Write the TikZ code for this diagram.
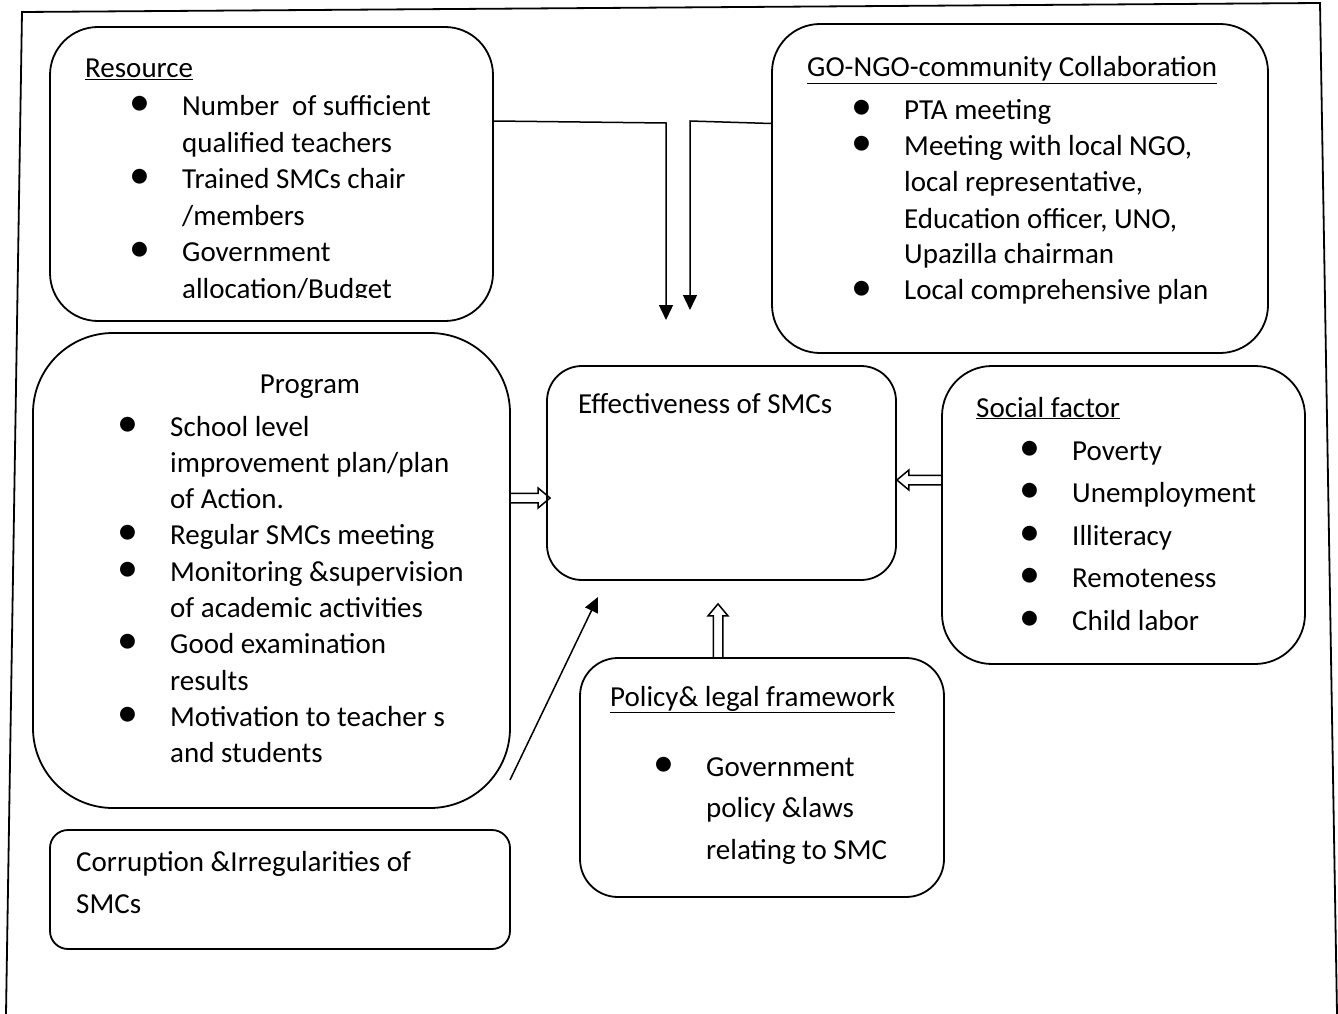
\documentclass[tikz,border=0pt]{standalone}
\usepackage{fontspec}
\setmainfont{Carlito}
\usetikzlibrary{arrows.meta,calc}

\tikzset{
  box/.style={draw, line width=1.8pt, inner sep=0pt},
  txt/.style={anchor=base west, inner sep=0pt, font=\fontsize{29}{36}\selectfont},
  link/.style={line width=1.5pt, -{Triangle[length=15pt,width=14pt]}},
  hollow/.style={line width=1.5pt, line join=miter, to path={
    let \p1=(\tikztostart), \p2=(\tikztotarget), \n1={atan2(\y2-\y1,\x2-\x1)} in
    ($(\p1)+(\n1+90:4.75pt)$) -- ($(\p2)+(\n1+180:12pt)+(\n1+90:4.75pt)$)
    -- ($(\p2)+(\n1+180:12pt)+(\n1+90:10pt)$) -- (\p2)
    -- ($(\p2)+(\n1+180:12pt)+(\n1-90:10pt)$) -- ($(\p2)+(\n1+180:12pt)+(\n1-90:4.75pt)$)
    -- ($(\p1)+(\n1-90:4.75pt)$)}}
}
\newcommand{\bul}{\llap{\makebox[0pt]{\fontsize{42}{36}\selectfont\textbullet}\hspace{42pt}}}

\begin{document}
\begin{tikzpicture}[x=1pt,y=-1pt]
  \useasboundingbox (0,0) rectangle (1338,1014);

  % outer frame
  \draw[line width=1.8pt] (6,1014) -- (22,12) -- (1320,3) -- (1337,1014);

  % boxes
  \node[box, rounded corners=48pt, minimum width=443pt, minimum height=294pt] (res) at (271.5,174) {};
  \node[box, rounded corners=48pt, minimum width=496pt, minimum height=329pt] (gon) at (1020,188.5) {};
  \node[box, rounded corners=80pt, minimum width=477pt, minimum height=475pt] (prog) at (271.5,570.5) {};
  \node[box, rounded corners=35pt, minimum width=349pt, minimum height=214pt] (eff) at (721.5,473) {};
  \node[box, rounded corners=50pt, minimum width=363pt, minimum height=298pt] (soc) at (1123.5,515) {};
  \node[box, rounded corners=38pt, minimum width=364pt, minimum height=239pt] (pol) at (762,777.5) {};
  \node[box, rounded corners=18pt, minimum width=460pt, minimum height=119pt] (cor) at (280,889.5) {};

  % Resource
  \node[txt] (res-h) at (85,78) {\underline{Resource}};
  \begin{scope}
    \clip (0,0) rectangle (1338,297);
    \node[txt, font=\fontsize{29}{36.5}\selectfont] (res-l) at (182,116) {\begin{tabular}[t]{@{}l@{}}
      \bul Number\ \ of sufficient\\ qualified teachers\\
      \bul Trained SMCs chair\\ /members\\
      \bul Government\\ allocation/Budget
    \end{tabular}};
  \end{scope}

  % GO-NGO
  \node[txt] (gon-h) at (807,77) {\underline{GO-NGO-community Collaboration}};
  \node[txt] (gon-l) at (904,120) {\begin{tabular}[t]{@{}l@{}}
      \bul PTA meeting\\
      \bul Meeting with local NGO,\\ local representative,\\ Education officer, UNO,\\ Upazilla chairman\\
      \bul Local comprehensive plan
    \end{tabular}};

  % Program
  \node[txt, anchor=base] (prog-h) at (310,393) {Program};
  \node[txt, font=\fontsize{29}{36.3}\selectfont] (prog-l) at (170,436) {\begin{tabular}[t]{@{}l@{}}
      \bul School level\\ improvement plan/plan\\ of Action.\\
      \bul Regular SMCs meeting\\
      \bul Monitoring \&supervision\\ of academic activities\\
      \bul Good examination\\ results\\
      \bul Motivation to teacher s\\ and students
    \end{tabular}};

  \node[txt] (eff-t) at (578,413) {Effectiveness of SMCs};

  % Social factor
  \node[txt] (soc-h) at (976,417) {\underline{Social factor}};
  \node[txt, font=\fontsize{29}{42.5}\selectfont] (soc-l) at (1072,460) {\begin{tabular}[t]{@{}l@{}}
      \bul Poverty\\ \bul Unemployment\\ \bul Illiteracy\\ \bul Remoteness\\ \bul Child labor
    \end{tabular}};

  % Policy
  \node[txt] (pol-h) at (610,706) {\underline{Policy\& legal framework}};
  \node[txt, font=\fontsize{29}{41.5}\selectfont] (pol-l) at (706,776) {\begin{tabular}[t]{@{}l@{}}
      \bul Government\\ policy \&laws\\ relating to SMC
    \end{tabular}};

  \node[txt, font=\fontsize{29}{42}\selectfont] (cor-t) at (76,871) {\begin{tabular}[t]{@{}l@{}}
      Corruption \&Irregularities of\\ SMCs
    \end{tabular}};

  % arrows
  \coordinate (r1) at (666,123);
  \coordinate (r2) at (666,320);
  \coordinate (g1) at (690,121);
  \coordinate (g2) at (690,310);
  \coordinate (d0) at (510,780);
  \coordinate (d1) at (598,597);
  \draw[link] ([yshift=53pt]res.east) -- (r1) -- (r2);
  \draw[link] ([yshift=65pt]gon.west) -- (g1) -- (g2);
  \draw[link] (d0) -- (d1);
  \draw[hollow] ([yshift=72.5pt]prog.east) to ([xshift=4pt,yshift=-25pt]eff.west);
  \draw[hollow] ([yshift=35pt]soc.west) to ([yshift=-7pt]eff.east);
  \draw[hollow] ([xshift=-44pt]pol.north) to ([xshift=-3.5pt,yshift=-23pt]eff.south);
\end{tikzpicture}
\end{document}
